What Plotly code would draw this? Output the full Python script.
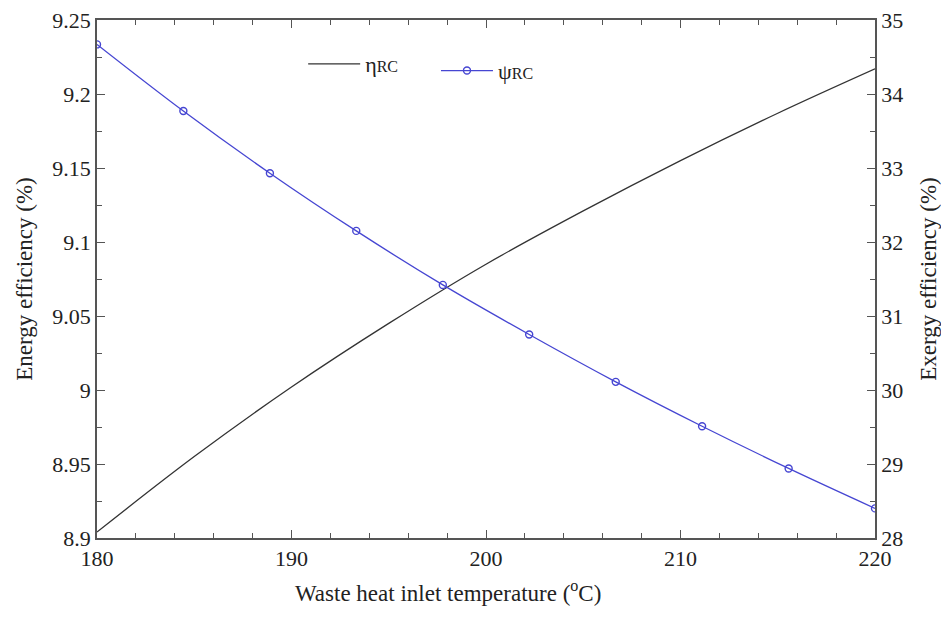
import plotly.graph_objects as go

# ---- data ----
temp_eta = [180, 185, 190, 195, 200, 205, 210, 215, 220]
eta_rc = [8.904, 8.955, 9.002, 9.045, 9.085, 9.121, 9.155, 9.187, 9.217]

temp_psi = [180, 184.44, 188.89, 193.33, 197.78, 202.22, 206.67, 211.11, 215.56, 220]
psi_rc = [34.67, 33.77, 32.93, 32.15, 31.42, 30.75, 30.11, 29.51, 28.94, 28.40]

x_ticks = [180, 190, 200, 210, 220]
x_labels = ["180", "190", "200", "210", "220"]
y1_ticks = [8.9, 8.95, 9.0, 9.05, 9.1, 9.15, 9.2, 9.25]
y1_labels = ["8.9", "8.95", "9", "9.05", "9.1", "9.15", "9.2", "9.25"]
y2_ticks = [28, 29, 30, 31, 32, 33, 34, 35]
y2_labels = ["28", "29", "30", "31", "32", "33", "34", "35"]

FONT = "Liberation Serif, Times New Roman, serif"
AXC = "#555555"
BLUE = "#4646d2"

fig = go.Figure()
fig.add_trace(go.Scatter(
    x=temp_eta, y=eta_rc, mode="lines", line=dict(color="#333333", width=1.3, shape="spline"),
    name="η<span style='font-size:16px'>RC</span>", legend="legend", yaxis="y", showlegend=True))
fig.add_trace(go.Scatter(
    x=temp_psi, y=psi_rc, mode="lines+markers", line=dict(color=BLUE, width=1.3, shape="spline"),
    marker=dict(symbol="circle-open", size=7, color=BLUE, line=dict(width=1.4)),
    name="ψ<span style='font-size:16px'>RC</span>", legend="legend2", yaxis="y2", showlegend=True))

axis_common = dict(showgrid=False, zeroline=False, showline=True, linecolor=AXC, linewidth=1.5,
                   ticks="inside", ticklen=8, tickwidth=1.3, tickcolor=AXC, automargin=False,
                   tickfont=dict(family=FONT, size=22, color="#222222"))

fig.update_layout(
    width=941, height=617,
    margin=dict(l=97, r=66, t=20, b=79),
    paper_bgcolor="white", plot_bgcolor="white",
    showlegend=True,
    font=dict(family=FONT, size=20, color="#222222"),
    xaxis=dict(range=[180, 220], tickvals=x_ticks, ticktext=x_labels, mirror="ticks",
               minor=dict(ticks="inside", ticklen=5, dtick=2, tickcolor=AXC, tickwidth=1.2),
               **axis_common),
    yaxis=dict(range=[8.9, 9.25], tickvals=y1_ticks, ticktext=y1_labels,
               minor=dict(ticks="inside", ticklen=5, dtick=0.025, tick0=8.9, tickcolor=AXC, tickwidth=1.2),
               title=dict(text="Energy efficiency (%)", font=dict(family=FONT, size=23), standoff=13),
               **axis_common),
    yaxis2=dict(range=[28, 35], tickvals=y2_ticks, ticktext=y2_labels, overlaying="y", side="right",
                minor=dict(ticks="inside", ticklen=5, dtick=0.5, tick0=28, tickcolor=AXC, tickwidth=1.2),
                title=dict(text="Exergy efficiency (%)", font=dict(family=FONT, size=23), standoff=18),
                **axis_common),
    legend=dict(x=0.265, y=0.915, xanchor="left", yanchor="middle", bgcolor="rgba(0,0,0,0)",
                font=dict(family=FONT, size=22), itemwidth=52),
    legend2=dict(x=0.4357, y=0.902, xanchor="left", yanchor="middle", bgcolor="rgba(0,0,0,0)",
                 font=dict(family=FONT, size=22), itemwidth=52, visible=True),
    annotations=[dict(text="Waste heat inlet temperature (<sup>o</sup>C)", xref="paper", yref="paper",
                      x=(448 - 97) / 778, y=-(591 - 538) / 518, xanchor="center", yanchor="middle",
                      showarrow=False, font=dict(family=FONT, size=23, color="#222222"))],
)

fig.write_html("out.html")
